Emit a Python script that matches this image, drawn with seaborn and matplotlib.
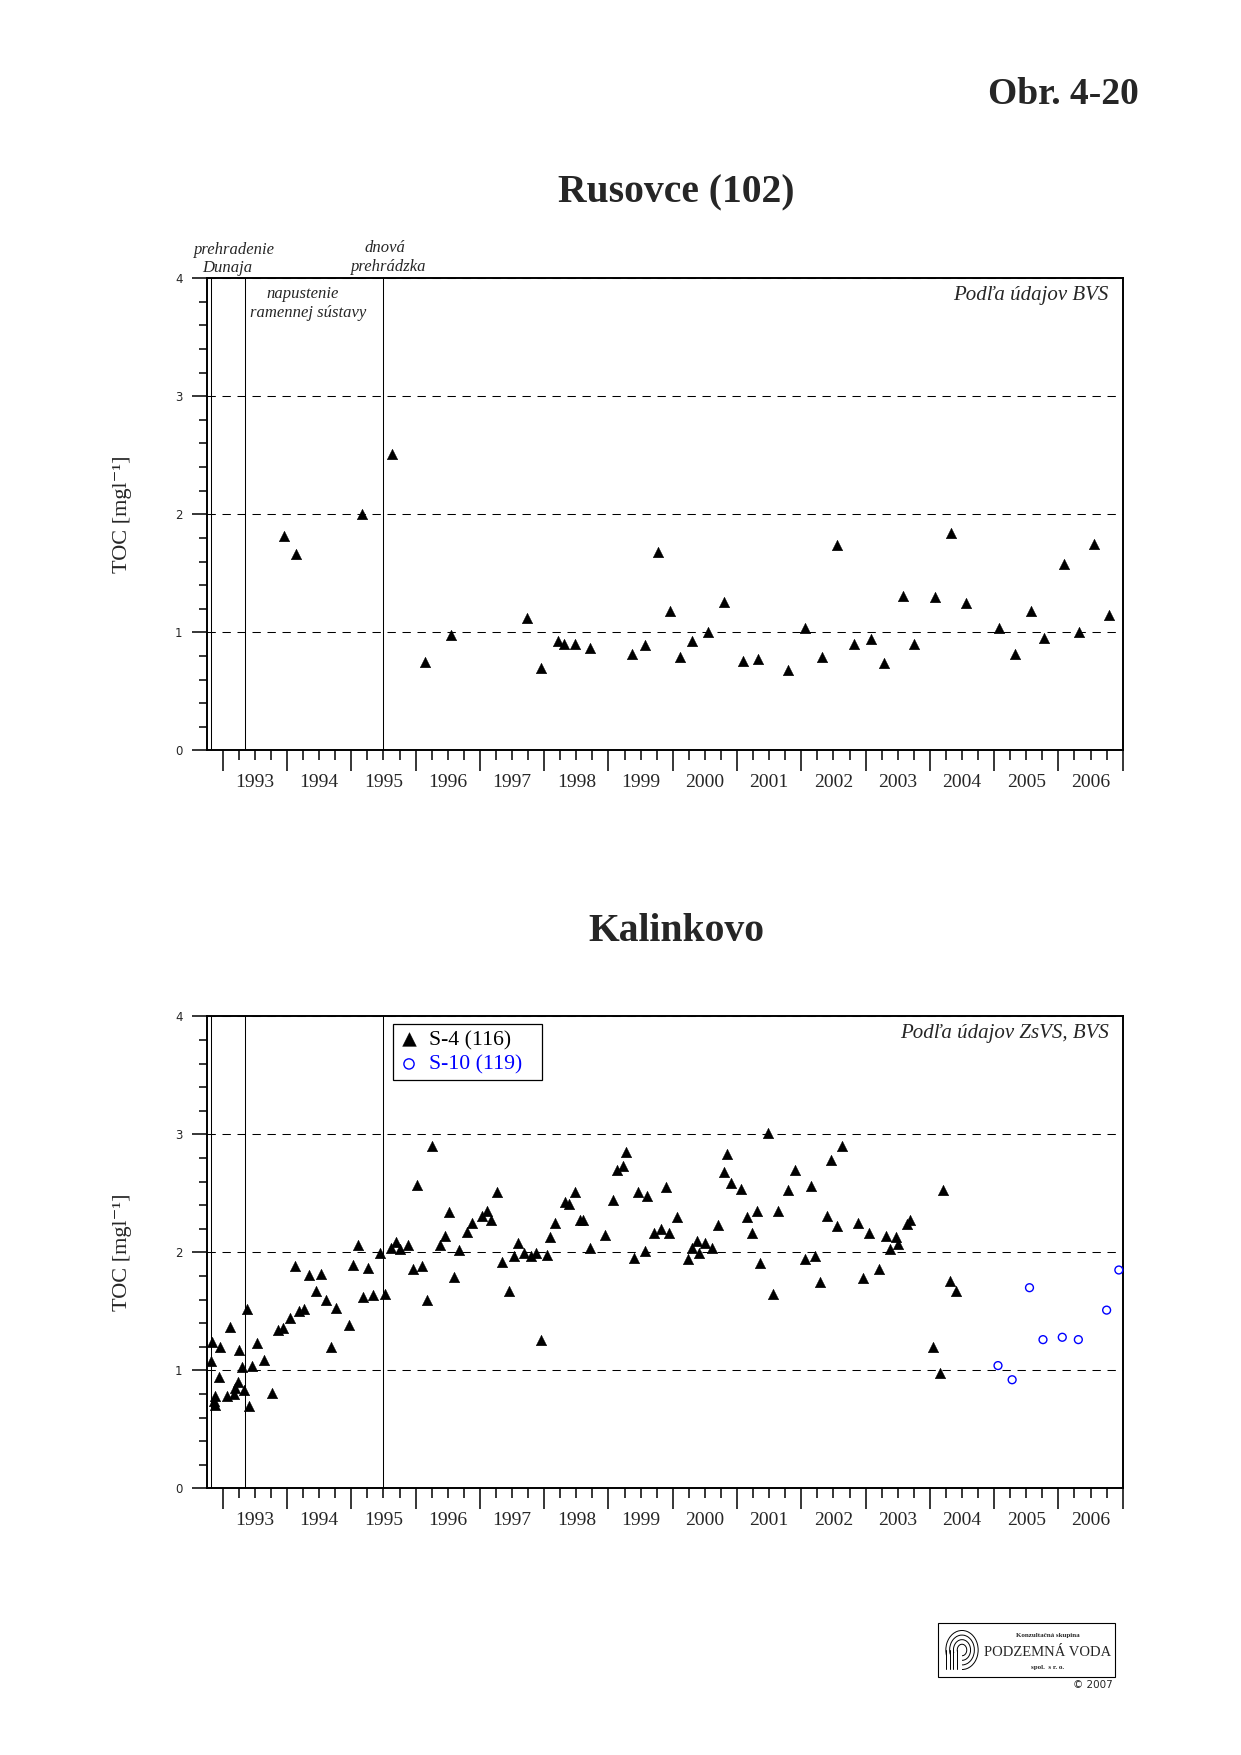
import numpy as np
import pandas as pd
import matplotlib
matplotlib.use("Agg")
import matplotlib.pyplot as plt
from matplotlib.ticker import FixedLocator, FuncFormatter, NullFormatter, MultipleLocator
from matplotlib.patches import Rectangle, Arc
import seaborn as sns

sns.set_style("white")
plt.rcParams['font.family'] = ['Liberation Serif', 'DejaVu Serif']
plt.rcParams['lines.scale_dashes'] = False

# ---------------- data ----------------
# Rusovce (102), TOC [mg/l]
rus_year = [1993.95, 1994.14, 1995.16, 1995.64, 1996.15, 1996.55, 1997.73, 1997.95,
            1998.22, 1998.31, 1998.48, 1998.72, 1999.37, 1999.57, 1999.77, 1999.96,
            2000.12, 2000.30, 2000.55, 2000.80, 2001.09, 2001.32, 2001.79, 2002.06,
            2002.32, 2002.55, 2002.82, 2003.08, 2003.29, 2003.58, 2003.75, 2004.08,
            2004.33, 2004.56, 2005.07, 2005.33, 2005.58, 2005.78, 2006.08, 2006.32,
            2006.55, 2006.79]
rus_toc = [1.82, 1.66, 2.00, 2.51, 0.75, 0.98, 1.12, 0.70, 0.93, 0.90,
           0.90, 0.87, 0.82, 0.89, 1.68, 1.18, 0.79, 0.93, 1.00, 1.26,
           0.76, 0.77, 0.68, 1.04, 0.79, 1.74, 0.90, 0.94, 0.74, 1.31,
           0.90, 1.30, 1.84, 1.25, 1.04, 0.82, 1.18, 0.95, 1.58, 1.00,
           1.75, 1.15]

# Kalinkovo S-4 (116)
s4_year = [1992.84, 1992.82, 1992.96, 1992.94, 1992.88, 1992.86, 1992.88, 1993.06,
           1993.11, 1993.17, 1993.19, 1993.23, 1993.26, 1993.30, 1993.33, 1993.38,
           1993.41, 1993.46, 1993.53, 1993.64, 1993.76, 1993.86, 1993.94, 1994.05,
           1994.12, 1994.18, 1994.26, 1994.34, 1994.45, 1994.53, 1994.61, 1994.69,
           1994.76, 1994.96, 1995.03, 1995.10, 1995.18, 1995.26, 1995.34, 1995.45,
           1995.52, 1995.61, 1995.69, 1995.76, 1995.88, 1995.96, 1996.02, 1996.10,
           1996.18, 1996.26, 1996.38, 1996.46, 1996.52, 1996.60, 1996.68, 1996.80,
           1996.88, 1997.04, 1997.11, 1997.18, 1997.27, 1997.35, 1997.45, 1997.53,
           1997.59, 1997.68, 1997.80, 1997.87, 1997.95, 1998.04, 1998.09, 1998.17,
           1998.32, 1998.39, 1998.48, 1998.55, 1998.61, 1998.71, 1998.95, 1999.07,
           1999.13, 1999.23, 1999.28, 1999.40, 1999.46, 1999.57, 1999.60, 1999.71,
           1999.82, 1999.90, 1999.94, 2000.07, 2000.24, 2000.30, 2000.37, 2000.41,
           2000.50, 2000.61, 2000.70, 2000.79, 2000.85, 2000.91, 2001.06, 2001.16,
           2001.23, 2001.31, 2001.35, 2001.48, 2001.56, 2001.64, 2001.79, 2001.90,
           2002.06, 2002.15, 2002.21, 2002.29, 2002.40, 2002.46, 2002.56, 2002.63,
           2002.88, 2002.96, 2003.05, 2003.21, 2003.32, 2003.38, 2003.47, 2003.51,
           2003.65, 2003.69, 2004.05, 2004.15, 2004.21, 2004.31, 2004.41]
s4_toc = [1.24, 1.08, 1.20, 0.94, 0.78, 0.74, 0.71, 0.78,
          1.37, 0.80, 0.85, 0.90, 1.17, 1.03, 0.83, 1.52,
          0.70, 1.04, 1.23, 1.09, 0.81, 1.34, 1.36, 1.44,
          1.88, 1.50, 1.52, 1.81, 1.67, 1.82, 1.60, 1.20,
          1.53, 1.38, 1.89, 2.06, 1.62, 1.87, 1.64, 1.99,
          1.65, 2.04, 2.09, 2.03, 2.06, 1.86, 2.57, 1.88,
          1.60, 2.90, 2.06, 2.14, 2.34, 1.79, 2.02, 2.17,
          2.25, 2.31, 2.35, 2.27, 2.51, 1.92, 1.67, 1.97,
          2.08, 1.99, 1.97, 1.99, 1.26, 1.98, 2.13, 2.25,
          2.43, 2.41, 2.51, 2.27, 2.27, 2.04, 2.15, 2.44,
          2.70, 2.73, 2.85, 1.95, 2.51, 2.01, 2.48, 2.16,
          2.20, 2.55, 2.16, 2.30, 1.94, 2.04, 2.10, 1.99,
          2.08, 2.04, 2.23, 2.68, 2.83, 2.59, 2.54, 2.30,
          2.16, 2.35, 1.91, 3.01, 1.65, 2.35, 2.53, 2.70,
          1.94, 2.56, 1.97, 1.75, 2.31, 2.78, 2.22, 2.90,
          2.25, 1.78, 2.16, 1.86, 2.14, 2.03, 2.13, 2.07,
          2.24, 2.27, 1.20, 0.98, 2.53, 1.76, 1.67]

# Kalinkovo S-10 (119)
s10_year = [2005.06, 2005.28, 2005.55, 2005.76, 2006.06, 2006.31, 2006.75, 2006.94]
s10_toc = [1.04, 0.92, 1.70, 1.26, 1.28, 1.26, 1.51, 1.85]

# prehradenie Dunaja, napustenie ramennej sustavy, dnova prehradzka
event_year = [1992.82, 1993.34, 1995.49]

# ---------------- figure ----------------
W, H = 1241, 1755
fig = plt.figure(figsize=(W / 100, H / 100), dpi=100)


def px(x, y):
    return x / W, 1 - y / H


AX_L, AX_R = 206.7, 1122.7
AX_H = 472.0


def make_axes(top_px):
    return fig.add_axes([AX_L / W, 1 - (top_px + AX_H) / H, (AX_R - AX_L) / W, AX_H / H])


def setup_axes(ax, source):
    ax.set_xlim(1992.75, 2007.0)
    ax.set_ylim(0, 4)
    for s in ax.spines.values():
        s.set_visible(True)
        s.set_linewidth(1.4)
        s.set_color('black')
    ax.xaxis.set_major_locator(FixedLocator(list(range(1993, 2008))))
    ax.xaxis.set_minor_locator(FixedLocator([y + q for y in range(1993, 2007)
                                             for q in (0.25, 0.5, 0.75)]))
    ax.xaxis.set_major_formatter(NullFormatter())
    ax.xaxis.set_minor_formatter(FuncFormatter(
        lambda v, p: f'{int(v)}' if abs(v % 1 - 0.5) < 0.01 else ''))
    ax.yaxis.set_major_locator(FixedLocator([0, 1, 2, 3, 4]))
    ax.yaxis.set_minor_locator(MultipleLocator(0.2))
    ax.tick_params(axis='x', which='major', direction='out', length=15, width=1.1,
                   bottom=True, top=False, color='black')
    ax.tick_params(axis='x', which='minor', direction='out', length=7.2, width=1.1,
                   pad=10, labelsize=14, bottom=True, top=False, color='black')
    ax.tick_params(axis='y', which='major', direction='out', length=10.5, width=1.1,
                   pad=7, labelsize=8.5, left=True, right=False, color='black',
                   labelfontfamily='DejaVu Sans')
    ax.tick_params(axis='y', which='minor', direction='out', length=6, width=1.1,
                   left=True, right=False, color='black')
    ax.yaxis.grid(True, which='major', color='black', linewidth=0.75,
                  linestyle=(0, (6, 4.8)))
    ax.xaxis.grid(False)
    for ev in event_year:
        ax.axvline(ev, color='black', linewidth=0.75, zorder=2)
    ax.set_xlabel('')
    ax.set_ylabel('TOC [mgl⁻¹]', fontsize=16)
    ax.yaxis.set_label_coords(-0.082, 0.5)
    ax.text(0.985, 0.964, source, transform=ax.transAxes, ha='right', va='center',
            fontsize=15, style='italic')


# --- Rusovce ---
ax1 = make_axes(278.3)
sns.scatterplot(x=rus_year, y=rus_toc, marker='^', s=58, color='black',
                edgecolor='black', linewidth=0.3, ax=ax1, zorder=3)
setup_axes(ax1, 'Podľa údajov BVS')

# --- Kalinkovo ---
ax2 = make_axes(1016.3)
sns.scatterplot(x=s4_year, y=s4_toc, marker='^', s=58, color='black',
                edgecolor='black', linewidth=0.3, ax=ax2, zorder=3, label='S-4 (116)')
sns.scatterplot(x=s10_year, y=s10_toc, marker='o', s=32, facecolor='none',
                edgecolor='#0000ff', linewidth=1.0, ax=ax2, zorder=3,
                label='S-10 (119)', clip_on=False)
setup_axes(ax2, 'Podľa údajov ZsVS, BVS')
leg_w, leg_h = 149 / 916, 53 / 472
leg = ax2.legend(loc='upper left', bbox_to_anchor=(0.203, 0.983 - leg_h, leg_w, leg_h),
                 mode='expand', borderaxespad=0,
                 frameon=True, fancybox=False, edgecolor='black', framealpha=1,
                 fontsize=15.7, handlelength=1.0, handletextpad=0.4, borderpad=0.25,
                 labelspacing=0.2, markerscale=1.3)
leg.get_frame().set_linewidth(0.9)
for txt, col in zip(leg.get_texts(), ['black', '#0000ff']):
    txt.set_color(col)

# event annotations above the top chart
ann_kw = dict(ha='center', va='center', fontsize=12, style='italic')
fig.text(*px(234, 250), 'prehradenie', **ann_kw)
fig.text(*px(227, 268), 'Dunaja', **ann_kw)
fig.text(*px(385, 248), 'dnová', **ann_kw)
fig.text(*px(389, 267), 'prehrádzka', **ann_kw)
fig.text(*px(303, 294), 'napustenie', **ann_kw)
fig.text(*px(308, 313), 'ramennej sústavy', **ann_kw)

# titles
fig.text(*px(1139, 94), 'Obr. 4-20', ha='right', va='center', fontsize=27,
         fontweight='bold')
fig.text(*px(676, 193), 'Rusovce (102)', ha='center', va='center', fontsize=28.5,
         fontweight='bold')
fig.text(*px(676, 932), 'Kalinkovo', ha='center', va='center', fontsize=28.5,
         fontweight='bold')

# logo
x0, y0 = px(938, 1677)
x1, y1 = px(1115, 1623)
fig.add_artist(Rectangle((x0, y0), x1 - x0, y1 - y0, transform=fig.transFigure,
                         fill=False, edgecolor='black', linewidth=0.8))
lx, ly = px(943, 1672)
axl = fig.add_axes([lx, ly, 38 / W, 44 / H])
axl.set_xlim(-1, 1)
axl.set_ylim(-1.15, 1.15)
axl.axis('off')
for r in [0.25, 0.45, 0.65, 0.85]:
    axl.add_patch(Arc((0, 0), 2 * r, 2.4 * r, theta1=-90, theta2=200,
                      color='black', linewidth=0.7))
    axl.plot([-r, -r], [0, -1.0], color='black', linewidth=0.7)
fig.text(*px(1048, 1635), 'Konzultačná skupina', ha='center', va='center',
         fontsize=5, fontweight='bold')
fig.text(*px(1048, 1652), 'PODZEMNÁ VODA', ha='center', va='center', fontsize=10.5)
fig.text(*px(1048, 1667), 'spol.  s r. o.', ha='center', va='center', fontsize=5,
         fontweight='bold')
fig.text(*px(1113, 1685), '© 2007', ha='right', va='center', fontsize=7.5,
         family='DejaVu Sans')

fig.savefig('out.png', dpi=100)
